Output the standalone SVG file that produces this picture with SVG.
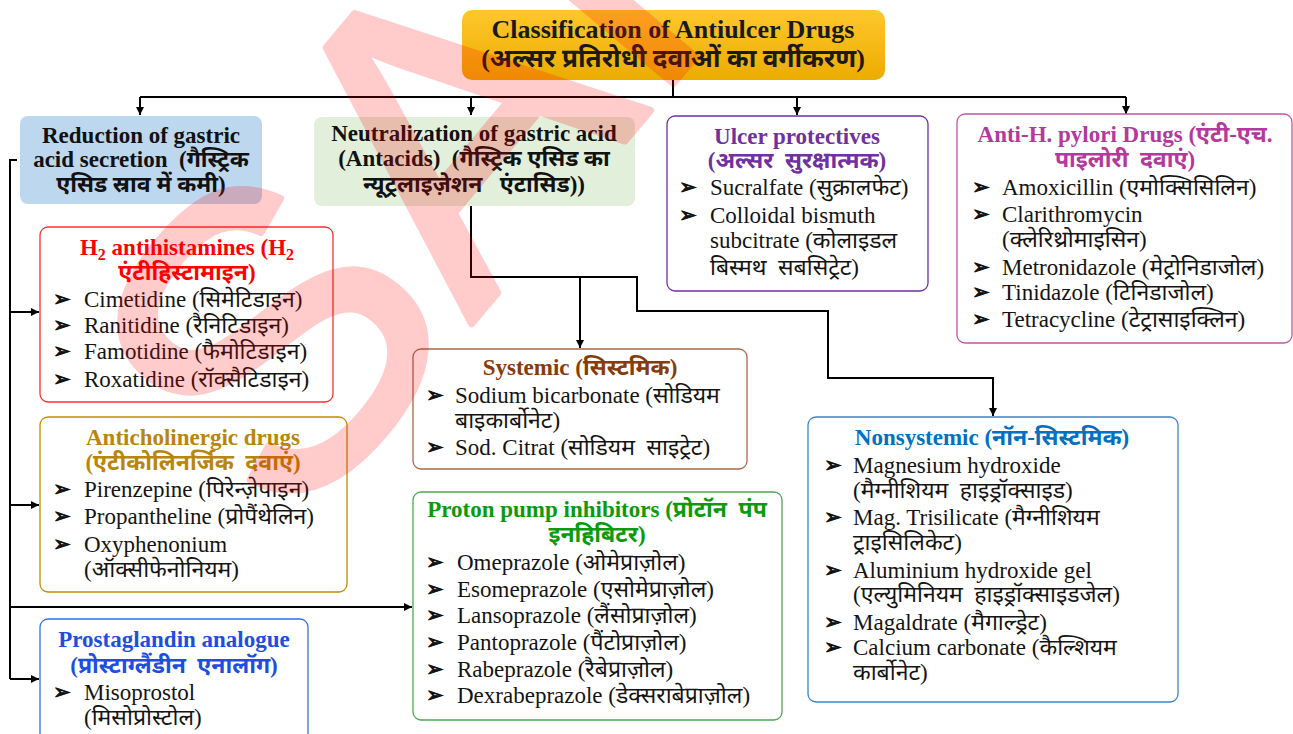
<svg xmlns="http://www.w3.org/2000/svg" width="1293" height="734" viewBox="0 0 1293 734">
<defs>
<linearGradient id="gold" x1="0" y1="0" x2="0" y2="1"><stop offset="0" stop-color="#ffc72c"/><stop offset="1" stop-color="#ebac00"/></linearGradient>
<marker id="arr" viewBox="0 0 10 10" refX="10" refY="5" markerWidth="8" markerHeight="9" markerUnits="userSpaceOnUse" orient="auto"><path d="M0,0 L10,5 L0,10 z" fill="#000"/></marker>
<style>
text{font-family:"Liberation Serif","Noto Sans Devanagari","Noto Serif Devanagari","Lohit Devanagari",serif;white-space:pre}
.h{font-weight:bold;font-size:23px;text-anchor:middle}
.i{font-size:23px;fill:#141414}
.bl{font-family:"DejaVu Sans",sans-serif;font-size:21px;fill:#111;stroke:#111;stroke-width:0.9}
.box{fill:#fff;stroke-width:1.3}
.con{fill:none;stroke:#000;stroke-width:2}
.wm{font-family:"Liberation Sans",sans-serif;font-size:420px;fill:#ff0000;stroke:#ff0000;stroke-width:7;stroke-linejoin:round}
</style>
</defs>
<rect width="1293" height="734" fill="#fff"/>

<g id="connectors">
<path class="con" d="M673,80 V97"/>
<path class="con" d="M140,97 H1126"/>
<path class="con" d="M140,97 V115" marker-end="url(#arr)"/>
<path class="con" d="M471,97 V115" marker-end="url(#arr)"/>
<path class="con" d="M797,97 V115" marker-end="url(#arr)"/>
<path class="con" d="M1126,97 V114" marker-end="url(#arr)"/>
<path class="con" d="M17,160 H10 V679"/>
<path class="con" d="M10,312 H39" marker-end="url(#arr)"/>
<path class="con" d="M10,505 H39" marker-end="url(#arr)"/>
<path class="con" d="M10,607 H412" marker-end="url(#arr)"/>
<path class="con" d="M10,679 H39" marker-end="url(#arr)"/>
<path class="con" d="M471,206 V277 H637 V311 H828 V378 H993 V416" marker-end="url(#arr)"/>
<path class="con" d="M580,277 V348" marker-end="url(#arr)"/>
</g>

<g id="title">
<rect x="462" y="10" width="423" height="70" rx="10" fill="url(#gold)"/>
<text class="h" x="673" y="38" style="font-size:26px" fill="#1a1a1a">Classification of Antiulcer Drugs</text>
<text class="h" x="673" y="67" style="font-size:26px" fill="#1a1a1a">(अल्सर प्रतिरोधी दवाओं का वर्गीकरण)</text>
</g>

<g id="reduction">
<rect x="20" y="116" width="242" height="88" rx="8" fill="#bdd7ee"/>
<text class="h" x="141" y="143" fill="#111">Reduction of gastric</text>
<text class="h" x="141" y="167" fill="#111">acid secretion  (गैस्ट्रिक</text>
<text class="h" x="141" y="192" fill="#111">एसिड स्राव में कमी)</text>
</g>

<g id="neutralization">
<rect x="314" y="117" width="321" height="89" rx="8" fill="#e2efda"/>
<text class="h" x="474" y="141" fill="#111">Neutralization of gastric acid</text>
<text class="h" x="474" y="166" fill="#111">(Antacids)  (गैस्ट्रिक एसिड का</text>
<text class="h" x="474" y="192" fill="#111">न्यूट्रलाइज़ेशन   एंटासिड))</text>
</g>

<g id="ulcer-protectives">
<rect class="box" x="667" y="116" width="261" height="175" rx="8" stroke="#7030a0"/>
<text class="h" x="797" y="144" fill="#7030a0">Ulcer protectives</text>
<text class="h" x="797" y="168" fill="#7030a0">(अल्सर  सुरक्षात्मक)</text>
<text class="bl" x="679" y="194">➢</text><text class="i" x="710" y="195">Sucralfate (सुक्रालफेट)</text>
<text class="bl" x="679" y="222">➢</text><text class="i" x="710" y="223">Colloidal bismuth</text>
<text class="i" x="710" y="248">subcitrate (कोलाइडल</text>
<text class="i" x="710" y="275">बिस्मथ  सबसिट्रेट)</text>
</g>

<g id="anti-h-pylori">
<rect class="box" x="957" y="114" width="335" height="229" rx="8" stroke="#c453a6"/>
<text class="h" x="1125" y="142" fill="#b5389c">Anti-H. pylori Drugs (एंटी-एच.</text>
<text class="h" x="1125" y="167" fill="#b5389c">पाइलोरी  दवाएं)</text>
<text class="bl" x="972" y="194">➢</text><text class="i" x="1002" y="195">Amoxicillin (एमोक्सिसिलिन)</text>
<text class="bl" x="972" y="221">➢</text><text class="i" x="1002" y="222">Clarithromycin</text>
<text class="i" x="1002" y="247">(क्लेरिथ्रोमाइसिन)</text>
<text class="bl" x="972" y="274">➢</text><text class="i" x="1002" y="275">Metronidazole (मेट्रोनिडाजोल)</text>
<text class="bl" x="972" y="299">➢</text><text class="i" x="1002" y="300">Tinidazole (टिनिडाजोल)</text>
<text class="bl" x="972" y="326">➢</text><text class="i" x="1002" y="327">Tetracycline (टेट्रासाइक्लिन)</text>
</g>

<g id="h2-antihistamines">
<rect class="box" x="40" y="227" width="293" height="175" rx="8" stroke="#ff3030"/>
<text class="h" x="187" y="255" fill="#ff0000">H<tspan dy="5" style="font-size:16px">2</tspan><tspan dy="-5"> antihistamines (H</tspan><tspan dy="5" style="font-size:16px">2</tspan></text>
<text class="h" x="187" y="280" fill="#ff0000">एंटीहिस्टामाइन)</text>
<text class="bl" x="53" y="306">➢</text><text class="i" x="84" y="307">Cimetidine (सिमेटिडाइन)</text>
<text class="bl" x="53" y="332">➢</text><text class="i" x="84" y="333">Ranitidine (रैनिटिडाइन)</text>
<text class="bl" x="53" y="358">➢</text><text class="i" x="84" y="359">Famotidine (फैमोटिडाइन)</text>
<text class="bl" x="53" y="386">➢</text><text class="i" x="84" y="387">Roxatidine (रॉक्सैटिडाइन)</text>
</g>

<g id="anticholinergic">
<rect class="box" x="40" y="417" width="307" height="175" rx="8" stroke="#bf9000"/>
<text class="h" x="193" y="445" fill="#b8860b">Anticholinergic drugs</text>
<text class="h" x="193" y="470" fill="#b8860b">(एंटीकोलिनर्जिक  दवाएं)</text>
<text class="bl" x="53" y="496">➢</text><text class="i" x="84" y="497">Pirenzepine (पिरेन्ज़ेपाइन)</text>
<text class="bl" x="53" y="523">➢</text><text class="i" x="84" y="524">Propantheline (प्रोपैंथेलिन)</text>
<text class="bl" x="53" y="551">➢</text><text class="i" x="84" y="552">Oxyphenonium</text>
<text class="i" x="84" y="577">(ऑक्सीफेनोनियम)</text>
</g>

<g id="prostaglandin">
<rect class="box" x="40" y="619" width="268" height="130" rx="8" stroke="#3a6ee8"/>
<text class="h" x="174" y="647" fill="#1c4fe0">Prostaglandin analogue</text>
<text class="h" x="174" y="673" fill="#1c4fe0">(प्रोस्टाग्लैंडीन  एनालॉग)</text>
<text class="bl" x="53" y="699">➢</text><text class="i" x="84" y="700">Misoprostol</text>
<text class="i" x="84" y="725">(मिसोप्रोस्टोल)</text>
</g>

<g id="systemic">
<rect class="box" x="413" y="349" width="334" height="120" rx="8" stroke="#a8694a"/>
<text class="h" x="580" y="375" fill="#843c0c">Systemic (सिस्टमिक)</text>
<text class="bl" x="426" y="402">➢</text><text class="i" x="455" y="403">Sodium bicarbonate (सोडियम</text>
<text class="i" x="455" y="428">बाइकार्बोनेट)</text>
<text class="bl" x="426" y="454">➢</text><text class="i" x="455" y="455">Sod. Citrat (सोडियम  साइट्रेट)</text>
</g>

<g id="proton-pump-inhibitors">
<rect class="box" x="413" y="492" width="369" height="228" rx="8" stroke="#4fa84f"/>
<text class="h" x="597" y="517" fill="#0b9a0b">Proton pump inhibitors (प्रोटॉन  पंप</text>
<text class="h" x="597" y="542" fill="#0b9a0b">इनहिबिटर)</text>
<text class="bl" x="426" y="569">➢</text><text class="i" x="457" y="570">Omeprazole (ओमेप्राज़ोल)</text>
<text class="bl" x="426" y="596">➢</text><text class="i" x="457" y="597">Esomeprazole (एसोमेप्राज़ोल)</text>
<text class="bl" x="426" y="622">➢</text><text class="i" x="457" y="623">Lansoprazole (लैंसोप्राज़ोल)</text>
<text class="bl" x="426" y="649">➢</text><text class="i" x="457" y="650">Pantoprazole (पैंटोप्राज़ोल)</text>
<text class="bl" x="426" y="676">➢</text><text class="i" x="457" y="677">Rabeprazole (रैबेप्राज़ोल)</text>
<text class="bl" x="426" y="702">➢</text><text class="i" x="457" y="703">Dexrabeprazole (डेक्सराबेप्राज़ोल)</text>
</g>

<g id="nonsystemic">
<rect class="box" x="808" y="417" width="370" height="285" rx="8" stroke="#3d84c6"/>
<text class="h" x="992" y="445" fill="#0070c0">Nonsystemic (नॉन-सिस्टमिक)</text>
<text class="bl" x="824" y="472">➢</text><text class="i" x="853" y="473">Magnesium hydroxide</text>
<text class="i" x="853" y="498">(मैग्नीशियम  हाइड्रॉक्साइड)</text>
<text class="bl" x="824" y="524">➢</text><text class="i" x="853" y="525">Mag. Trisilicate (मैग्नीशियम</text>
<text class="i" x="853" y="550">ट्राइसिलिकेट)</text>
<text class="bl" x="824" y="577">➢</text><text class="i" x="853" y="578">Aluminium hydroxide gel</text>
<text class="i" x="853" y="602">(एल्युमिनियम  हाइड्रॉक्साइडजेल)</text>
<text class="bl" x="824" y="629">➢</text><text class="i" x="853" y="630">Magaldrate (मैगाल्ड्रेट)</text>
<text class="bl" x="824" y="654">➢</text><text class="i" x="853" y="655">Calcium carbonate (कैल्शियम</text>
<text class="i" x="853" y="680">कार्बोनेट)</text>
</g>

<g id="watermark" opacity="0.2">
<text class="wm" transform="translate(291,539) rotate(-50)">SAMPLE</text>
</g>
</svg>
